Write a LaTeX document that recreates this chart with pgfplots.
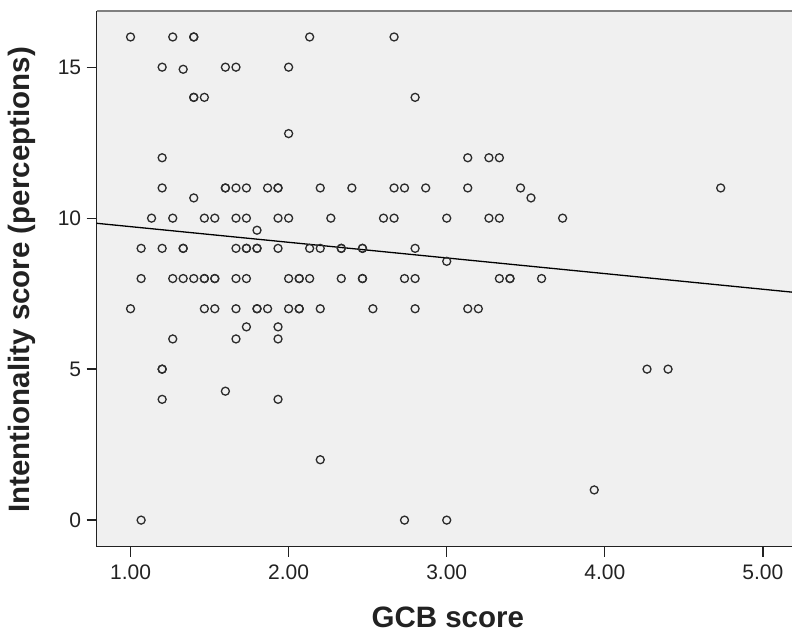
\documentclass[border=0pt]{standalone}
\usepackage{fontspec}
\setmainfont{Liberation Sans}
\usepackage{pgfplots}
\pgfplotsset{compat=1.18}
\definecolor{plotbg}{HTML}{F0F0F0}
\definecolor{ink}{HTML}{2B2B2B}
\definecolor{frame}{HTML}{222222}

\begin{document}
\begin{tikzpicture}[x=1pt,y=1pt]
\begin{axis}[
  at={(96.7pt,88.3pt)}, anchor=south west,
  scale only axis, width=695.3pt, height=535.7pt,
  xmin=0.786, xmax=5.184, ymin=-0.88, ymax=16.86,
  axis x line*=bottom, axis y line*=left,
  axis line style={draw=frame, line width=1.5pt},
  axis background/.style={fill=plotbg},
  tick align=outside, major tick length=10pt,
  tick style={draw=frame, line width=1.3pt},
  xtick={1,2,3,4,5}, ytick={0,5,10,15},
  minor tick num=0,
  /pgf/number format/assume math mode=true,
  xticklabel={\pgfmathprintnumber[fixed,fixed zerofill,precision=2]{\tick}},
  tick label style={font=\fontsize{21}{25}\selectfont, text=frame},
  xticklabel style={yshift=-5pt},
  yticklabel style={xshift=-2pt},
  label style={font=\fontsize{29.5}{35}\selectfont\bfseries, text=frame},
  xlabel={GCB score},
  ylabel={Intentionality score (perceptions)},
  xlabel style={at={(axis description cs:0.505,-0.1312)}, anchor=center},
  ylabel style={at={(axis description cs:-0.1074,0.498)}, anchor=center},
]
\draw[color=gray, line width=1.5pt] (rel axis cs:0,1) -- (rel axis cs:1,1);
\addplot[only marks, mark=o, mark size=4pt, mark options={line width=1.3pt, draw=ink}] coordinates {
(1.000,16) (1.267,16) (1.400,16) (1.400,16) (2.133,16) (2.667,16)
(1.200,15) (1.600,15) (1.667,15) (2.000,15) (1.333,14.93)
(1.400,14) (1.400,14) (1.467,14) (2.800,14)
(2.000,12.8)
(1.200,12) (3.133,12) (3.267,12) (3.333,12)
(1.200,11) (1.600,11) (1.600,11) (1.667,11) (1.733,11) (1.867,11) (1.933,11) (1.933,11)
(2.200,11) (2.400,11) (2.667,11) (2.733,11) (2.867,11) (3.133,11) (3.467,11) (4.733,11)
(1.400,10.67) (3.533,10.67)
(1.133,10) (1.267,10) (1.467,10) (1.533,10) (1.667,10) (1.733,10) (1.933,10) (2.000,10)
(2.267,10) (2.600,10) (2.667,10) (3.000,10) (3.267,10) (3.333,10) (3.733,10)
(1.800,9.6)
(1.067,9) (1.200,9) (1.333,9) (1.333,9) (1.667,9) (1.733,9) (1.733,9) (1.800,9) (1.800,9)
(1.933,9) (2.133,9) (2.200,9) (2.333,9) (2.333,9) (2.467,9) (2.467,9) (2.800,9)
(3.000,8.57)
(1.067,8) (1.267,8) (1.333,8) (1.400,8) (1.467,8) (1.467,8) (1.533,8) (1.533,8) (1.667,8)
(1.733,8) (2.000,8) (2.067,8) (2.067,8) (2.133,8) (2.333,8) (2.467,8) (2.467,8) (2.733,8)
(2.800,8) (3.333,8) (3.400,8) (3.400,8) (3.600,8)
(1.000,7) (1.467,7) (1.533,7) (1.667,7) (1.800,7) (1.800,7) (1.867,7) (2.000,7) (2.067,7)
(2.067,7) (2.200,7) (2.533,7) (2.800,7) (3.133,7) (3.200,7)
(1.733,6.4) (1.933,6.4)
(1.267,6) (1.667,6) (1.933,6)
(1.200,5) (1.200,5) (4.267,5) (4.400,5)
(1.600,4.27)
(1.200,4) (1.933,4)
(2.200,2)
(3.933,1)
(1.067,0) (2.733,0) (3.000,0)
};
\addplot[black, line width=1.3pt] coordinates {(0.786,9.83) (5.184,7.55)};
\end{axis}
\pgfresetboundingbox
\path[use as bounding box] (0,0) rectangle (792,635);
\end{tikzpicture}
\end{document}
